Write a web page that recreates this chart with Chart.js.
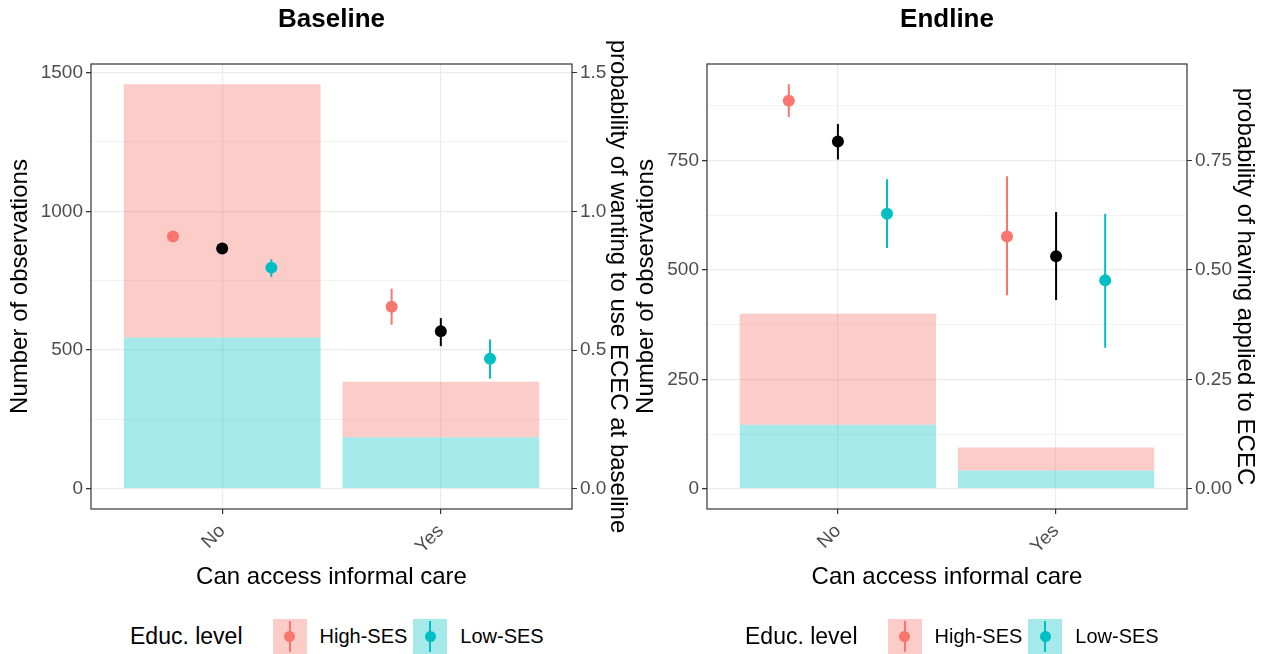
<!DOCTYPE html>
<html>
<head>
<meta charset="utf-8">
<script src="https://cdn.jsdelivr.net/npm/chart.js@4.4.1/dist/chart.umd.min.js"></script>
<style>
  body { margin: 0; background: #fff; width: 1273px; height: 654px; overflow: hidden; position: relative;
         font-family: "Liberation Sans", Arial, sans-serif; }
  .panel { position: absolute; top: 0; height: 654px; }
  .panel canvas { position: absolute; left: 0; top: 0; }
  .legend { position: absolute; top: 619px; height: 35px; display: flex; align-items: center; color: #000; white-space: nowrap; }
  .legend .title { font-size: 23px; margin-right: 30px; }
  .legend .key { position: relative; width: 34px; height: 35px; }
  .legend .key .bar { position: absolute; left: 16px; top: 2px; bottom: 2px; width: 2px; }
  .legend .key .dot { position: absolute; left: 11.5px; top: 12px; width: 11px; height: 11px; border-radius: 50%; }
  .legend .lab { font-size: 20px; margin: 0 6px 0 13px; }
</style>
</head>
<body>
<div class="panel" id="leftPanel" style="left:0; width:640px;">
  <canvas id="baseChart" width="640" height="600"></canvas>
  <div class="legend" id="baseLegend" style="left:130px;"></div>
</div>
<div class="panel" id="rightPanel" style="left:626px; width:647px;">
  <canvas id="endChart" width="647" height="600"></canvas>
  <div class="legend" id="endLegend" style="left:119px;"></div>
</div>
<script>
const categories = ['No', 'Yes'];
const groups = ['High-SES', 'Low-SES'];

// Baseline: counts per SES group, probability of wanting to use ECEC (+ interval)
const baseLowCount = [545, 186];
const baseHighCount = [913, 200];
const baseProbHigh = [0.909, 0.656];
const baseProbHighLo = [0.897, 0.591];
const baseProbHighHi = [0.921, 0.721];
const baseProbAll = [0.866, 0.568];
const baseProbAllLo = [0.853, 0.514];
const baseProbAllHi = [0.879, 0.615];
const baseProbLow = [0.797, 0.469];
const baseProbLowLo = [0.763, 0.397];
const baseProbLowHi = [0.827, 0.538];
const baseCountTicks = [0, 500, 1000, 1500];
const baseCountMinor = [250, 750, 1250];
const baseProbTicks = ['0.0', '0.5', '1.0', '1.5'];

// Endline: counts per SES group, probability of having applied to ECEC (+ interval)
const endLowCount = [146, 42];
const endHighCount = [254, 52];
const endProbHigh = [0.886, 0.576];
const endProbHighLo = [0.849, 0.442];
const endProbHighHi = [0.924, 0.714];
const endProbAll = [0.793, 0.531];
const endProbAllLo = [0.752, 0.431];
const endProbAllHi = [0.833, 0.632];
const endProbLow = [0.628, 0.476];
const endProbLowLo = [0.550, 0.322];
const endProbLowHi = [0.707, 0.628];
const endCountTicks = [0, 250, 500, 750];
const endCountMinor = [125, 375, 625, 875];
const endProbTicks = ['0.00', '0.25', '0.50', '0.75'];

const HIGH = '#F8766D';
const LOW = '#00BFC4';
const HIGH_FILL = 'rgba(248,118,109,0.37)';
const LOW_FILL = 'rgba(0,191,196,0.35)';
const SCALE = 1000;   // sec. axis = count / 1000
const DODGE = 0.225;
const FONT = '"Liberation Sans", Arial, sans-serif';

// error bars + panel border + centred title
const panelDecor = {
  id: 'panelDecor',
  beforeDatasetDraw(chart, args) {
    const ds = chart.data.datasets[args.index];
    if (!ds.errLo) return;
    const ctx = chart.ctx, xs = chart.scales.x, ys = chart.scales.y2;
    ctx.save();
    ctx.strokeStyle = ds.backgroundColor;
    ctx.lineWidth = 2;
    ds.data.forEach((pt, i) => {
      const px = xs.getPixelForValue(pt.x);
      ctx.beginPath();
      ctx.moveTo(px, ys.getPixelForValue(ds.errLo[i]));
      ctx.lineTo(px, ys.getPixelForValue(ds.errHi[i]));
      ctx.stroke();
    });
    ctx.restore();
  },
  afterDatasetsDraw(chart) {
    const a = chart.chartArea, ctx = chart.ctx;
    ctx.save();
    ctx.strokeStyle = '#333333';
    ctx.lineWidth = 1.2;
    ctx.strokeRect(a.left, a.top, a.right - a.left, a.bottom - a.top);
    ctx.restore();
  },
  afterDraw(chart, args, opts) {
    const a = chart.chartArea, ctx = chart.ctx;
    ctx.save();
    ctx.font = 'bold 26px ' + FONT;
    ctx.fillStyle = '#000';
    ctx.textAlign = 'center';
    ctx.textBaseline = 'alphabetic';
    ctx.fillText(opts.title, (a.left + a.right) / 2, 27);
    ctx.restore();
  }
};

function makePanel(canvasId, p) {
  const totals = p.low.map((v, i) => v + p.high[i]);
  const tops = [].concat(p.highHi, p.allHi, p.lowHi).map(v => v * SCALE);
  const hi = Math.max(...totals, ...tops);
  const yMin = -0.05 * hi, yMax = hi * 1.05;
  const gridVals = p.countTicks.concat(p.countMinor).sort((a, b) => a - b);
  const isMajor = v => p.countTicks.includes(v);

  const pts = (vals, off) => vals.map((v, i) => ({ x: i + 1 + off, y: v }));
  const bars = vals => vals.map((v, i) => ({ x: i + 1, y: v }));

  return new Chart(document.getElementById(canvasId), {
    type: 'bar',
    data: {
      datasets: [
        { type: 'scatter', label: 'High-SES', yAxisID: 'y2', order: 0, data: pts(p.probHigh, -DODGE),
          errLo: p.highLo, errHi: p.highHi, backgroundColor: HIGH, pointRadius: 6, pointBorderWidth: 0 },
        { type: 'scatter', label: 'All', yAxisID: 'y2', order: 0, data: pts(p.probAll, 0),
          errLo: p.allLo, errHi: p.allHi, backgroundColor: '#000000', pointRadius: 6, pointBorderWidth: 0 },
        { type: 'scatter', label: 'Low-SES', yAxisID: 'y2', order: 0, data: pts(p.probLow, DODGE),
          errLo: p.lowLo, errHi: p.lowHi, backgroundColor: LOW, pointRadius: 6, pointBorderWidth: 0 },
        { label: 'Low-SES', yAxisID: 'y', order: 1, data: bars(p.low), backgroundColor: LOW_FILL,
          borderWidth: 0, categoryPercentage: 1, barPercentage: 0.9 },
        { label: 'High-SES', yAxisID: 'y', order: 1, data: bars(p.high), backgroundColor: HIGH_FILL,
          borderWidth: 0, categoryPercentage: 1, barPercentage: 0.9 }
      ]
    },
    options: {
      responsive: false,
      animation: false,
      events: [],
      layout: { padding: { top: 64, left: 0, right: p.padRight, bottom: 0 } },
      plugins: {
        legend: { display: false },
        tooltip: { enabled: false },
        panelDecor: { title: p.title }
      },
      scales: {
        x: {
          type: 'linear', min: 0.4, max: 2.6, stacked: true, offset: false,
          afterBuildTicks: s => { s.ticks = categories.map((c, i) => ({ value: i + 1 })); },
          afterFit: s => { s.height = 91; },
          ticks: { callback: v => categories[Math.round(v) - 1], font: { family: FONT, size: 19 }, color: '#4D4D4D',
                   minRotation: 45, maxRotation: 45, padding: 6 },
          grid: { offset: false, color: '#EBEBEB', lineWidth: 1.2, tickColor: '#333333', tickLength: 5 },
          border: { display: false },
          title: { display: true, text: 'Can access informal care', color: '#000', font: { family: FONT, size: 24 },
                   padding: { top: 0, bottom: 8 } }
        },
        y: {
          position: 'left', stacked: true, min: yMin, max: yMax,
          afterBuildTicks: s => { s.ticks = gridVals.map(v => ({ value: v })); },
          afterFit: s => { s.width = p.yWidth; },
          ticks: { callback: v => isMajor(v) ? String(v) : '', font: { family: FONT, size: 19 }, color: '#4D4D4D', padding: 3 },
          grid: {
            color: c => isMajor(c.tick.value) ? '#EBEBEB' : '#F3F3F3',
            lineWidth: c => isMajor(c.tick.value) ? 1.3 : 1,
            tickColor: c => isMajor(c.tick.value) ? '#333333' : 'rgba(0,0,0,0)',
            tickLength: 5
          },
          border: { display: false },
          title: { display: true, text: 'Number of observations', color: '#000', font: { family: FONT, size: 24 },
                   padding: { top: 6, bottom: 0 } }
        },
        y2: {
          position: 'right', min: yMin / SCALE, max: yMax / SCALE,
          afterBuildTicks: s => { s.ticks = p.probTicks.map(t => ({ value: parseFloat(t) })); },
          afterFit: s => { s.width = p.y2Width; },
          ticks: { callback: (v, i) => p.probTicks[i], font: { family: FONT, size: 19 }, color: '#4D4D4D', padding: 3 },
          grid: { drawOnChartArea: false, tickColor: '#333333', tickLength: 5 },
          border: { display: false },
          title: { display: true, text: p.y2Title, color: '#000', font: { family: FONT, size: 24 },
                   padding: { top: 6, bottom: 0 } }
        }
      }
    },
    plugins: [panelDecor]
  });
}

function buildLegend(id) {
  const colors = [HIGH, LOW], fills = [HIGH_FILL, LOW_FILL];
  document.getElementById(id).innerHTML = '<span class="title">Educ. level</span>' +
    groups.map((g, i) =>
      '<span class="key" style="background:' + fills[i] + '">' +
      '<span class="bar" style="background:' + colors[i] + '"></span>' +
      '<span class="dot" style="background:' + colors[i] + '"></span></span>' +
      '<span class="lab">' + g + '</span>').join('');
}

makePanel('baseChart', {
  title: 'Baseline', y2Title: 'probability of wanting to use ECEC at baseline',
  low: baseLowCount, high: baseHighCount,
  probHigh: baseProbHigh, highLo: baseProbHighLo, highHi: baseProbHighHi,
  probAll: baseProbAll, allLo: baseProbAllLo, allHi: baseProbAllHi,
  probLow: baseProbLow, lowLo: baseProbLowLo, lowHi: baseProbLowHi,
  countTicks: baseCountTicks, countMinor: baseCountMinor, probTicks: baseProbTicks,
  yWidth: 91, y2Width: 66, padRight: 2
});

makePanel('endChart', {
  title: 'Endline', y2Title: 'probability of having applied to ECEC',
  low: endLowCount, high: endHighCount,
  probHigh: endProbHigh, highLo: endProbHighLo, highHi: endProbHighHi,
  probAll: endProbAll, allLo: endProbAllLo, allHi: endProbAllHi,
  probLow: endProbLow, lowLo: endProbLowLo, lowHi: endProbLowHi,
  countTicks: endCountTicks, countMinor: endCountMinor, probTicks: endProbTicks,
  yWidth: 81, y2Width: 78, padRight: 8
});

buildLegend('baseLegend');
buildLegend('endLegend');
</script>
</body>
</html>
